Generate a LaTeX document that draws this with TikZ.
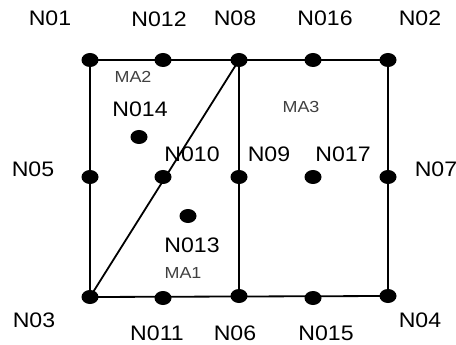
\documentclass[tikz,border=0pt]{standalone}
\usepackage{fontspec}
\setmainfont{Liberation Sans}
\newfontfamily\labfont[FakeStretch=1.1]{Liberation Sans}
\newfontfamily\areafont[FakeStretch=1.12]{Liberation Sans}
\usetikzlibrary{shapes.geometric}
\begin{document}
\begin{tikzpicture}[x=1pt,y=-1pt,
  dot/.style={fill=black,ellipse,inner sep=0pt,minimum width=17pt,minimum height=14pt},
  lab/.style={font=\labfont\fontsize{21}{21}\selectfont,inner sep=0pt},
  area/.style={font=\areafont\fontsize{16}{16}\selectfont,text=black!75,inner sep=0pt},
  edge/.style={line width=1.8pt},
  thick edge/.style={line width=2.8pt}]
\useasboundingbox (0,0) rectangle (456,345);
\coordinate (N01) at (90,60);
\coordinate (N012) at (163,60);
\coordinate (N08) at (239,60);
\coordinate (N016) at (313,60);
\coordinate (N02) at (388,60);
\coordinate (N05) at (90,177);
\coordinate (N010) at (163,177);
\coordinate (N09) at (239,177);
\coordinate (N017) at (313,177);
\coordinate (N07) at (388,177);
\coordinate (N03) at (90,297);
\coordinate (N011) at (163,298);
\coordinate (N06) at (239,296);
\coordinate (N015) at (313,298);
\coordinate (N04) at (388,296);
\coordinate (N014) at (139,137);
\coordinate (N013) at (188,216);
\draw[edge] (N01) -- (N02) -- (N04) -- (N03) -- cycle;
\draw[edge] (N03) -- (N08);
\draw[thick edge] (N08) -- (N06);
\foreach \n in {N01,N012,N08,N016,N02,N05,N010,N09,N017,N07,N03,N011,N06,N015,N04,N014,N013}
  \node[dot] (d\n) at (\n) {};
\node[lab] (lN01) at (50,18) {N01};
\node[lab] (lN012) at (159,19) {N012};
\node[lab] (lN08) at (235,18) {N08};
\node[lab] (lN016) at (325,18) {N016};
\node[lab] (lN02) at (420,18) {N02};
\node[lab] (lN05) at (33,169) {N05};
\node[lab] (lN010) at (192,154) {N010};
\node[lab] (lN09) at (269,154) {N09};
\node[lab] (lN017) at (343,154) {N017};
\node[lab] (lN07) at (436,169) {N07};
\node[lab] (lN03) at (34,320) {N03};
\node[lab] (lN011) at (157,333) {N011};
\node[lab] (lN06) at (235,333) {N06};
\node[lab] (lN015) at (326,333) {N015};
\node[lab] (lN04) at (420,320) {N04};
\node[lab] (lN014) at (140,109) {N014};
\node[lab] (lN013) at (192,245) {N013};
\node[area] (MA2) at (133,77) {MA2};
\node[area] (MA3) at (301,107) {MA3};
\node[area] (MA1) at (183,273) {MA1};
\end{tikzpicture}
\end{document}
